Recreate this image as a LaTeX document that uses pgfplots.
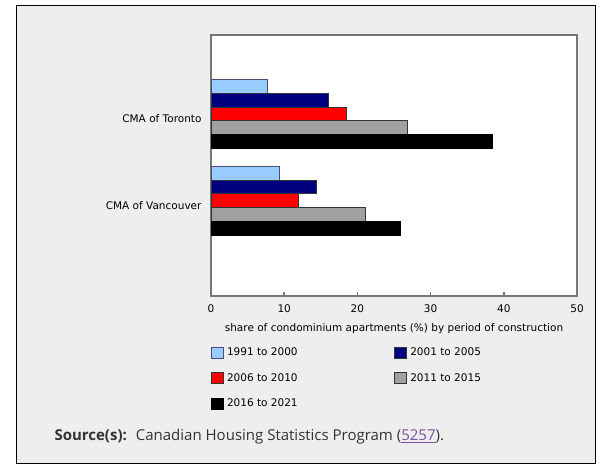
\documentclass[border=0pt]{standalone}
\usepackage{fontspec}
\setmainfont{DejaVu Sans}
\newfontfamily\srcfont{Open Sans}
\usepackage{pgfplots}
\pgfplotsset{compat=1.18}

\definecolor{bgframe}{HTML}{EEEEEE}
\definecolor{axisgray}{HTML}{777777}
\definecolor{cLight}{HTML}{99CCFF}
\definecolor{cNavy}{HTML}{000080}
\definecolor{cRed}{HTML}{FF0000}
\definecolor{cGray}{HTML}{A0A0A0}
\definecolor{cBlack}{HTML}{000000}
\definecolor{srctext}{HTML}{333333}
\definecolor{linkpurple}{HTML}{7B4FA0}

% y: 1 = CMA of Toronto, 0 = CMA of Vancouver
\pgfplotstableread{
y  p1   p2   p3   p4   p5
1  7.7  16.0 18.5 26.8 38.4
0  9.4  14.4 12.0 21.1 25.9
}\condo

\begin{document}
\begin{tikzpicture}
% page and grey frame
\path[use as bounding box] (0bp,0bp) rectangle (611bp,467bp);
\draw[black, line width=0.8bp, fill=bgframe] (16bp,4bp) rectangle (595bp,462bp);

\begin{axis}[
    at={(211bp,171bp)}, anchor=south west,
    scale only axis,
    width=366bp, height=261bp,
    axis background/.style={fill=white},
    axis line style={axisgray, line width=2bp},
    xmin=0, xmax=50,
    ymin=-1.099, ymax=1.911,
    xtick={0,10,...,50},
    ytick={0,1},
    yticklabels={CMA of Vancouver, CMA of Toronto},
    xtick pos=bottom,
    tick align=inside,
    major tick length=4bp,
    x tick style={axisgray, line width=1.5bp},
    y tick style={draw=none},
    font=\fontsize{10.5bp}{12.5bp}\selectfont,
    /pgf/number format/assume math mode=true,
    xticklabel style={font=\fontsize{10.5bp}{12.5bp}\selectfont, yshift=-5bp},
    yticklabel style={yshift=-5bp, xshift=-2bp},
    xlabel={share of condominium apartments (\%) by period of construction},
    xlabel style={yshift=-4bp},
    xbar,
    bar width=13.8bp,
    legend columns=2,
    legend cell align=left,
    legend style={
        draw=none, fill=none,
        at={(0,-0.194)}, anchor=north west,
        inner sep=0pt, outer sep=0pt,
        column sep=3.5bp, row sep=13.5bp,
        nodes={inner sep=0pt},
        font=\fontsize{10.5bp}{12.5bp}\selectfont,
    },
    legend image code/.code={
        \draw[#1, line width=1bp] (0bp,-5.5bp) rectangle (11.5bp,5.5bp);
    },
]
\addplot[fill=cLight, draw=black!60!blue!40!gray, line width=0.8bp, bar shift=27.6bp]
    table[x=p1, y=y] {\condo};
\addlegendentry{\makebox[163.8bp][l]{1991 to 2000}}
\addplot[fill=cNavy, draw=black!80, line width=0.8bp, bar shift=13.8bp]
    table[x=p2, y=y] {\condo};
\addlegendentry{2001 to 2005}
\addplot[fill=cRed, draw=black!80, line width=0.8bp, bar shift=0bp]
    table[x=p3, y=y] {\condo};
\addlegendentry{\makebox[163.8bp][l]{2006 to 2010}}
\addplot[fill=cGray, draw=black!80, line width=0.8bp, bar shift=-13.8bp]
    table[x=p4, y=y] {\condo};
\addlegendentry{2011 to 2015}
\addplot[fill=cBlack, draw=black, line width=0.8bp, bar shift=-27.6bp]
    table[x=p5, y=y] {\condo};
\addlegendentry{\makebox[163.8bp][l]{2016 to 2021}}
\end{axis}

% source line
\node[anchor=base west, inner sep=0pt, text=srctext,
      font=\srcfont\fontsize{15bp}{17bp}\selectfont]
    at (54.3bp,26.3bp)
    {\textbf{Source(s):}\hspace{0.6em}Canadian Housing Statistics Program (\textcolor{linkpurple}{\underline{5257}}).};
\end{tikzpicture}
\end{document}
